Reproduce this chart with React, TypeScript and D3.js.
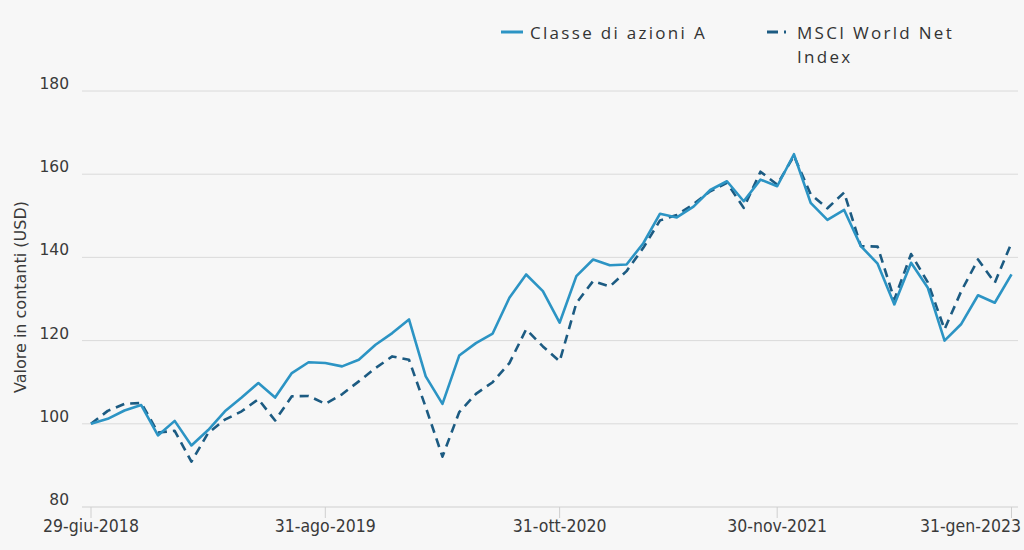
import React, { useEffect, useRef } from "react";
import * as d3 from "d3";

// Monthly values, 29-giu-2018 .. 31-gen-2023 (56 points)
const classeA: number[] = [
  100, 101.2, 103.2, 104.5, 97.2, 100.7, 94.8, 98.5, 103, 106.3,
  109.8, 106.3, 112.2, 114.8, 114.6, 113.8, 115.4, 119, 121.8, 125.1,
  111.4, 104.8, 116.4, 119.4, 121.7, 130.3, 135.9, 131.9, 124.3, 135.5,
  139.5, 138.1, 138.3, 143.4, 150.5, 149.6, 152.2, 156.2, 158.3, 153.5,
  158.7, 157.1, 164.8, 153.1, 149, 151.4, 142.7, 138.5, 128.7, 138.7,
  132.7, 120, 124, 130.9, 129.1, 135.9,
];
const msciWorld: number[] = [
  100, 103.1, 104.8, 105, 97.9, 98.3, 90.9, 97.8, 101, 103,
  105.9, 100.8, 106.6, 106.7, 104.8, 107.1, 110.2, 113.4, 116.2, 115.4,
  104, 92.1, 102.8, 107.2, 110, 114.6, 122.7, 118.6, 115, 129,
  134.3, 133, 136.7, 142.3, 148.9, 150.2, 152.8, 155.9, 157.9, 151.9,
  160.6, 157.5, 164.4, 155.2, 151.8, 155.6, 142.7, 142.6, 129.9, 140.8,
  134, 122.7, 131.9, 139.5, 133.9, 143.5,
];
const xTickIndex: number[] = [0, 14, 28, 41, 55];
const xTickLabels: string[] = ["29-giu-2018", "31-ago-2019", "31-ott-2020", "30-nov-2021", "31-gen-2023"];
const yTicks: number[] = [80, 100, 120, 140, 160, 180];
const seriesNames: string[] = ["Classe di azioni A", "MSCI World Net Index"];

const W = 1024;
const H = 550;
const COLOR_A = "#2c94c4";
const COLOR_B = "#1c5b82";

export default function App() {
  const ref = useRef<SVGSVGElement | null>(null);

  useEffect(() => {
    const svg = d3.select(ref.current);
    svg.selectAll("*").remove();

    const x = d3.scaleLinear().domain([0, classeA.length - 1]).range([91, 1011.5]);
    const y = d3.scaleLinear().domain([80, 180]).range([507, 91]);
    const gridLeft = 82;
    const gridRight = 1018;

    svg.append("rect").attr("width", W).attr("height", H).attr("fill", "#f7f7f7");

    // gridlines
    const grid = svg.append("g");
    yTicks.forEach((t) => {
      grid.append("line")
        .attr("x1", gridLeft).attr("x2", gridRight)
        .attr("y1", y(t)).attr("y2", y(t))
        .attr("stroke", t === 80 ? "#cfcfcf" : "#dadada")
        .attr("stroke-width", 1);
      grid.append("text")
        .attr("x", 69).attr("y", y(t) - 2)
        .attr("text-anchor", "end")
        .attr("font-family", "'DejaVu Sans', sans-serif")
        .attr("font-size", 15.5)
        .attr("fill", "#3a3a3a")
        .text(String(t));
    });

    // y title
    svg.append("text")
      .attr("transform", `translate(26,297) rotate(-90)`)
      .attr("text-anchor", "middle")
      .attr("font-family", "'DejaVu Sans', sans-serif")
      .attr("font-size", 16)
      .attr("fill", "#3a3a3a")
      .text("Valore in contanti (USD)");

    // x ticks + labels
    const xa = svg.append("g");
    xTickIndex.forEach((idx, i) => {
      const px = x(idx);
      xa.append("line")
        .attr("x1", px).attr("x2", px)
        .attr("y1", 507).attr("y2", 518)
        .attr("stroke", "#cfcfcf");
      const t = xa.append("text")
        .attr("x", px).attr("y", 532)
        .attr("text-anchor", "middle")
        .attr("font-family", "'Liberation Sans Narrow', 'DejaVu Sans Condensed', 'Roboto Condensed', sans-serif")
        .attr("font-stretch", "condensed")
        .attr("font-size", 17.5)
        .attr("fill", "#3a3a3a")
        .text(xTickLabels[i]);
      const node = t.node() as SVGTextElement;
      const w = node.getComputedTextLength();
      if (px + w / 2 > 1021) t.attr("x", 1021 - w / 2);
      if (px - w / 2 < 40) t.attr("x", 40 + w / 2);
    });

    const line = d3.line<number>().x((_, i) => x(i)).y((d) => y(d)).curve(d3.curveLinear);

    svg.append("path")
      .datum(msciWorld)
      .attr("d", line)
      .attr("fill", "none")
      .attr("stroke", COLOR_B)
      .attr("stroke-width", 2.6)
      .attr("stroke-dasharray", "9,6")
      .attr("stroke-linejoin", "round");

    svg.append("path")
      .datum(classeA)
      .attr("d", line)
      .attr("fill", "none")
      .attr("stroke", COLOR_A)
      .attr("stroke-width", 2.6)
      .attr("stroke-linejoin", "round");

    // legend
    const lg = svg.append("g")
      .attr("font-family", "'Open Sans', sans-serif")
      .attr("font-size", 17)
      .attr("letter-spacing", 2.3)
      .attr("fill", "#333");
    lg.append("line").attr("x1", 501).attr("x2", 523).attr("y1", 32).attr("y2", 32)
      .attr("stroke", COLOR_A).attr("stroke-width", 3);
    lg.append("text").attr("x", 530).attr("y", 39).text(seriesNames[0]);

    lg.append("line").attr("x1", 767).attr("x2", 790).attr("y1", 32).attr("y2", 32)
      .attr("stroke", COLOR_B).attr("stroke-width", 3).attr("stroke-dasharray", "11,6,2,6");
    const parts = seriesNames[1].split(" ");
    lg.append("text").attr("x", 797).attr("y", 39).text(parts.slice(0, 3).join(" "));
    lg.append("text").attr("x", 797).attr("y", 63).text(parts.slice(3).join(" "));
  }, []);

  return (
    <svg
      ref={ref}
      width={W}
      height={H}
      style={{ position: "absolute", left: 0, top: 0, display: "block" }}
    />
  );
}
